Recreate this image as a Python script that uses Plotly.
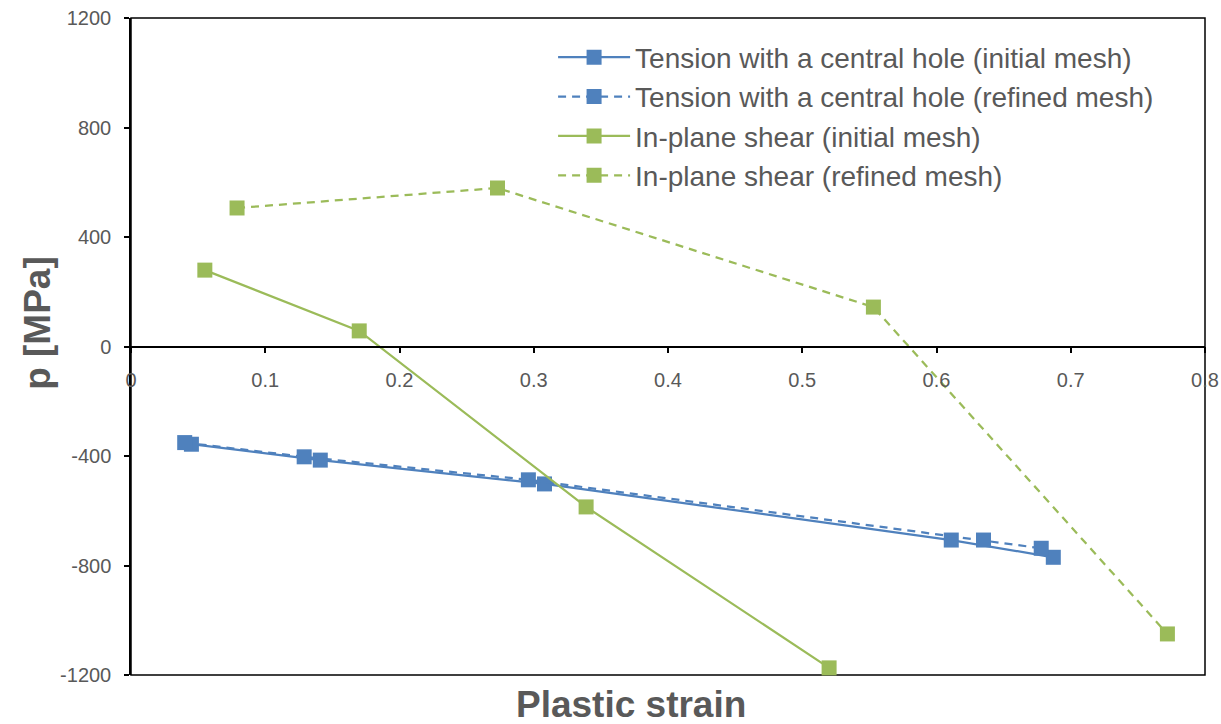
import plotly.graph_objects as go

# Data
tension_initial_x = [0.045, 0.141, 0.308, 0.611, 0.687]
tension_initial_y = [-357, -415, -502, -707, -770]
tension_refined_x = [0.040, 0.129, 0.296, 0.635, 0.678]
tension_refined_y = [-351, -403, -487, -707, -737]
shear_initial_x = [0.055, 0.170, 0.339, 0.520]
shear_initial_y = [279, 57, -586, -1174]
shear_refined_x = [0.079, 0.273, 0.553, 0.772]
shear_refined_y = [506, 579, 144, -1050]

names = [
    "Tension with a central hole (initial mesh)",
    "Tension with a central hole (refined mesh)",
    "In-plane shear (initial mesh)",
    "In-plane shear (refined mesh)",
]
x_ticks = [0, 0.1, 0.2, 0.3, 0.4, 0.5, 0.6, 0.7, 0.8]
x_tick_text = ["0", "0.1", "0.2", "0.3", "0.4", "0.5", "0.6", "0.7", "0.8"]
y_ticks = [-1200, -800, -400, 0, 400, 800, 1200]
y_tick_text = ["-1200", "-800", "-400", "0", "400", "800", "1200"]

BLUE = "#4F81BD"
GREEN = "#9BBB59"
GREY = "#595959"
FONT = "Liberation Sans, Arial, sans-serif"

fig = go.Figure()
series = [
    (tension_initial_x, tension_initial_y, BLUE, "solid"),
    (tension_refined_x, tension_refined_y, BLUE, "8px,6px"),
    (shear_initial_x, shear_initial_y, GREEN, "solid"),
    (shear_refined_x, shear_refined_y, GREEN, "8px,6px"),
]
for (xs, ys, col, dash), nm in zip(series, names):
    fig.add_trace(go.Scatter(
        x=xs, y=ys, name=nm, mode="lines+markers",
        line=dict(color=col, width=2.25, dash=dash),
        marker=dict(symbol="square", size=15, color=col),
        cliponaxis=False,
    ))

fig.update_layout(
    width=1221, height=724,
    margin=dict(l=131, r=16, t=18, b=49),
    paper_bgcolor="white", plot_bgcolor="white",
    font=dict(family=FONT, color=GREY),
    showlegend=True,
    legend=dict(
        x=0.393, y=0.978, xanchor="left", yanchor="top",
        font=dict(size=28, color=GREY, family=FONT),
        bgcolor="rgba(0,0,0,0)", itemwidth=72,
        tracegroupgap=0,
    ),
    xaxis=dict(
        range=[0, 0.8], tickvals=x_ticks, ticktext=x_tick_text,
        anchor="free", position=0.5, automargin=False,
        showline=True, linecolor="black", linewidth=1.5,
        ticks="outside", ticklen=6, tickcolor="black", tickwidth=1.5,
        ticklabelstandoff=10,
        tickfont=dict(size=20, color=GREY, family=FONT),
        showgrid=False, zeroline=False,
    ),
    yaxis=dict(
        range=[-1200, 1200], tickvals=y_ticks, ticktext=y_tick_text,
        automargin=False,
        showline=True, linecolor="black", linewidth=1.5,
        ticks="outside", ticklen=5, tickcolor="black", tickwidth=1.5,
        ticklabelstandoff=9,
        tickfont=dict(size=20, color=GREY, family=FONT),
        showgrid=False, zeroline=False,
    ),
    shapes=[dict(type="rect", xref="paper", yref="paper", x0=0, x1=1, y0=0, y1=1,
                 line=dict(color="black", width=1.5), layer="below")],
    annotations=[
        dict(text="<b>Plastic strain</b>", xref="paper", yref="paper",
             x=0.466, y=-0.0455, xanchor="center", yanchor="middle",
             showarrow=False, font=dict(size=37, color=GREY, family=FONT)),
        dict(text="<b>p [MPa]</b>", xref="paper", yref="paper",
             x=-0.0866, y=0.536, xanchor="center", yanchor="middle", textangle=-90,
             showarrow=False, font=dict(size=37, color=GREY, family=FONT)),
    ],
)

fig.write_html("out.html")
